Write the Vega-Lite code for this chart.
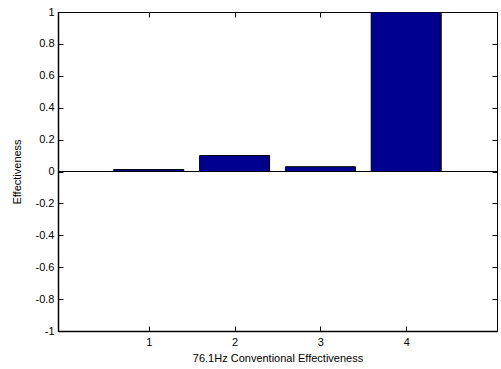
{
  "$schema": "https://vega.github.io/schema/vega-lite/v6.json",
  "width": 439,
  "height": 319,
  "autosize": {"type": "none"},
  "padding": {"left": 58, "top": 12, "right": 4, "bottom": 38},
  "background": "white",
  "config": {
    "view": {"stroke": "black", "strokeWidth": 1},
    "font": "Liberation Sans",
    "axis": {
      "grid": false,
      "domainColor": "black",
      "tickColor": "black",
      "tickSize": -5,
      "labelFont": "Liberation Sans",
      "labelFontSize": 11,
      "labelColor": "black",
      "titleFont": "Liberation Sans",
      "titleFontSize": 11,
      "titleFontWeight": "normal",
      "titleColor": "black"
    }
  },
  "data": {
    "values": [
      {"bar": 1, "eff": 0.012},
      {"bar": 2, "eff": 0.1},
      {"bar": 3, "eff": 0.03},
      {"bar": 4, "eff": 1.0}
    ]
  },
  "layer": [
    {
      "mark": {"type": "bar", "width": 70, "color": "#00008F", "stroke": "black", "strokeWidth": 1, "clip": true},
      "encoding": {
        "x": {"field": "bar", "type": "quantitative", "scale": {"domain": [0, 5], "nice": false},
          "axis": {"values": [1, 2, 3, 4], "title": "76.1Hz Conventional Effectiveness", "labelPadding": 10, "titlePadding": 5, "domainWidth": 1.5, "labelExpr": "toString(datum.value)"}},
        "y": {"field": "eff", "type": "quantitative", "scale": {"domain": [-1, 1], "nice": false},
          "axis": {"values": [-1, -0.8, -0.6, -0.4, -0.2, 0, 0.2, 0.4, 0.6, 0.8, 1], "title": "Effectiveness", "labelPadding": 9, "titlePadding": 13, "domainWidth": 1.5, "labelExpr": "toString(datum.value)"}}
      }
    },
    {
      "mark": {"type": "rule", "color": "black", "strokeWidth": 1},
      "encoding": {
        "y": {"datum": 0, "type": "quantitative", "axis": null}
      }
    },
    {
      "mark": {"type": "point", "opacity": 0},
      "encoding": {
        "x": {"field": "bar", "type": "quantitative", "scale": {"domain": [0, 5], "nice": false},
          "axis": {"orient": "top", "values": [1, 2, 3, 4], "labels": false, "title": null}},
        "y": {"field": "eff", "type": "quantitative", "scale": {"domain": [-1, 1], "nice": false},
          "axis": {"orient": "right", "values": [-1, -0.8, -0.6, -0.4, -0.2, 0, 0.2, 0.4, 0.6, 0.8, 1], "labels": false, "title": null}}
      }
    }
  ],
  "resolve": {"axis": {"x": "independent", "y": "independent"}}
}
